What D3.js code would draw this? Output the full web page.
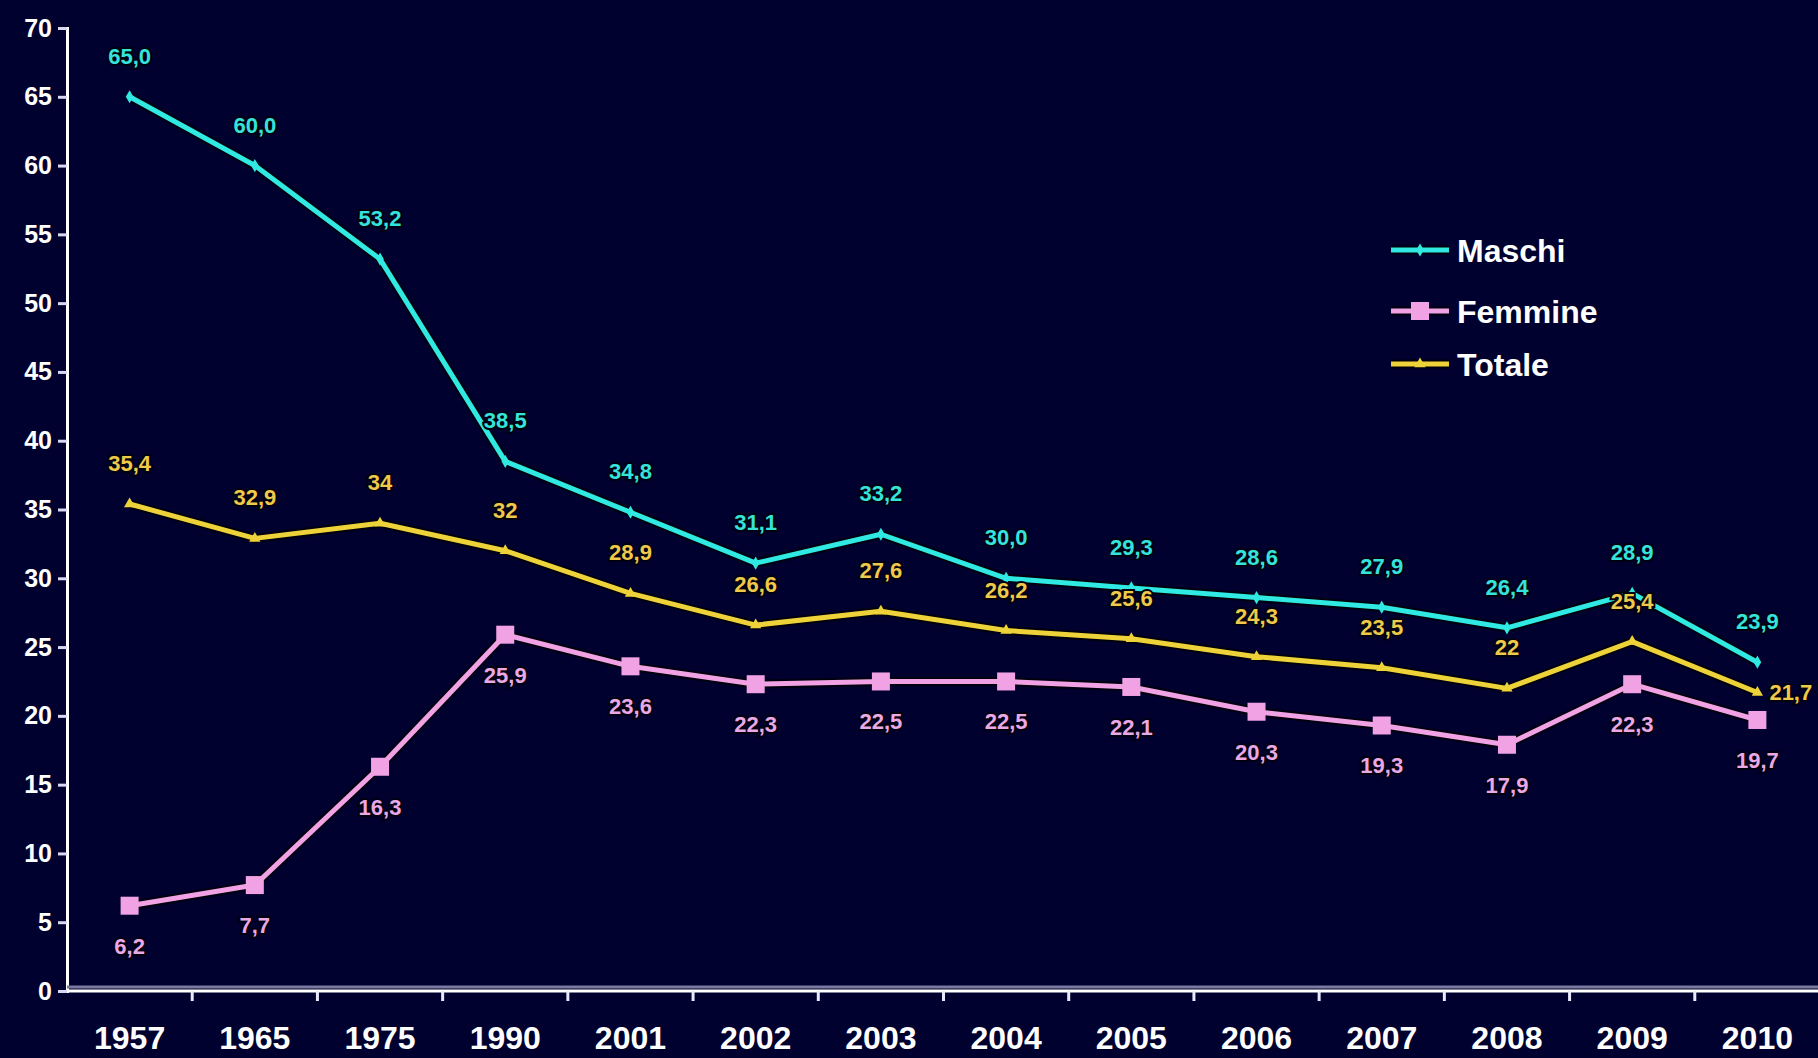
<!DOCTYPE html>
<html>
<head>
<meta charset="utf-8">
<script src="https://cdn.jsdelivr.net/npm/d3@7"></script>
<style>
  html, body { margin: 0; padding: 0; background: #01012f; }
  svg { display: block; }
</style>
</head>
<body>
<svg id="chart" width="1818" height="1058"></svg>
<script>
const years = ["1957","1965","1975","1990","2001","2002","2003","2004","2005","2006","2007","2008","2009","2010"];
const maschi  = [65.0, 60.0, 53.2, 38.5, 34.8, 31.1, 33.2, 30.0, 29.3, 28.6, 27.9, 26.4, 28.9, 23.9];
const femmine = [6.2, 7.7, 16.3, 25.9, 23.6, 22.3, 22.5, 22.5, 22.1, 20.3, 19.3, 17.9, 22.3, 19.7];
const totale  = [35.4, 32.9, 34, 32, 28.9, 26.6, 27.6, 26.2, 25.6, 24.3, 23.5, 22, 25.4, 21.7];
const yTicks  = [0, 5, 10, 15, 20, 25, 30, 35, 40, 45, 50, 55, 60, 65, 70];
const seriesNames = ["Maschi", "Femmine", "Totale"];

const W = 1818, H = 1058;
const FONT = "Liberation Sans, Arial, sans-serif";
const svg = d3.select("#chart");
svg.append("rect").attr("width", W).attr("height", H).attr("fill", "#01012f");

const x = d3.scaleBand().domain(years).range([67, 1820]).padding(0);
const y = d3.scaleLinear().domain([0, 70]).range([991, 28]);
const cx = d => x(d) + x.bandwidth() / 2;

const fmt1 = d3.format(".1f");
const series = [
  { name: "Maschi", values: maschi, color: "#2fe9e2", label: "#35e3dc", fmt: v => fmt1(v).replace(".", ","), pos: "above", marker: "diamond" },
  { name: "Femmine", values: femmine, color: "#f0a2e4", label: "#eaa8e6", fmt: v => fmt1(v).replace(".", ","), pos: "below", marker: "square" },
  { name: "Totale", values: totale, color: "#eed23a", label: "#efc94a", fmt: v => String(v).replace(".", ","), pos: "above", marker: "tri" }
];

// Y axis
const yAxis = d3.axisLeft(y).tickValues(yTicks).tickSize(9).tickPadding(6).tickFormat(d3.format("d"));
const gy = svg.append("g").attr("transform", "translate(67,0)").call(yAxis);
gy.select(".domain").attr("stroke", "#ffffff").attr("stroke-width", 3);
gy.selectAll(".tick line").attr("stroke", "#d8d8f0").attr("stroke-width", 3);
gy.selectAll(".tick text").attr("fill", "#ffffff").attr("font-family", FONT)
  .attr("font-weight", "bold").attr("font-size", 25);

// X axis: gray line above the white axis line
svg.append("line").attr("x1", 67).attr("x2", W).attr("y1", 987).attr("y2", 987)
  .attr("stroke", "#7a7aa0").attr("stroke-width", 3);
const xAxis = d3.axisBottom(x).tickSize(0).tickPadding(0);
const gx = svg.append("g").attr("transform", "translate(0,991)").call(xAxis);
gx.select(".domain").attr("stroke", "#ffffff").attr("stroke-width", 3).attr("d", `M67,0H${W}`);
gx.selectAll(".tick text").attr("fill", "#ffffff").attr("font-family", FONT)
  .attr("font-weight", "bold").attr("font-size", 32).attr("dy", null).attr("y", 58);
// tick marks between categories
svg.append("g").selectAll("line").data(years.slice(1)).join("line")
  .attr("x1", d => x(d)).attr("x2", d => x(d))
  .attr("y1", 991).attr("y2", 1001)
  .attr("stroke", "#e8e8ff").attr("stroke-width", 3);

// Lines
const line = d3.line().x((d, i) => cx(years[i])).y(d => y(d));
series.forEach(s => {
  svg.append("path").datum(s.values).attr("d", line).attr("fill", "none")
    .attr("stroke", "#000000").attr("stroke-opacity", 0.7).attr("stroke-width", 9).attr("stroke-linejoin", "round");
});
series.forEach(s => {
  svg.append("path").datum(s.values).attr("d", line).attr("fill", "none")
    .attr("stroke", s.color).attr("stroke-width", 5).attr("stroke-linejoin", "round");
});

// Markers
function drawMarker(g, type, px, py, color) {
  if (type === "square") {
    g.append("rect").attr("x", px - 9).attr("y", py - 9).attr("width", 18).attr("height", 18).attr("fill", color);
  } else if (type === "diamond") {
    g.append("path").attr("d", d3.symbol(d3.symbolDiamond, 50)()).attr("transform", `translate(${px},${py})`).attr("fill", color);
  } else {
    g.append("path").attr("d", d3.symbol(d3.symbolTriangle, 55)()).attr("transform", `translate(${px},${py})`).attr("fill", color);
  }
}
const gm = svg.append("g");
series.forEach(s => s.values.forEach((v, i) => drawMarker(gm, s.marker, cx(years[i]), y(v), s.color)));

// Data labels
const gl = svg.append("g").attr("font-family", FONT).attr("font-weight", "bold").attr("font-size", 22);
series.forEach(s => {
  s.values.forEach((v, i) => {
    let tx = cx(years[i]), ty, anchor = "middle";
    if (s.name === "Totale" && i === years.length - 1) {
      tx = tx + 12; ty = y(v) + 8; anchor = "start";
    } else if (s.pos === "above") {
      ty = y(v) - 33;
    } else {
      ty = y(v) + 48;
    }
    gl.append("text").attr("x", tx).attr("y", ty).attr("text-anchor", anchor)
      .attr("fill", s.label).attr("stroke", "#000010").attr("stroke-width", 4).attr("paint-order", "stroke")
      .text(s.fmt(v));
  });
});

// Legend
const legend = svg.append("g").attr("transform", "translate(1391,0)");
const legendY = [250, 311, 364];
series.forEach((s, i) => {
  const ly = legendY[i];
  legend.append("line").attr("x1", 0).attr("x2", 58).attr("y1", ly).attr("y2", ly)
    .attr("stroke", "#000").attr("stroke-opacity", 0.7).attr("stroke-width", 9);
  legend.append("line").attr("x1", 0).attr("x2", 58).attr("y1", ly).attr("y2", ly)
    .attr("stroke", s.color).attr("stroke-width", 5);
  drawMarker(legend, s.marker, 29, ly, s.color);
  legend.append("text").attr("x", 66).attr("y", ly + 12)
    .attr("fill", "#ffffff").attr("font-family", FONT)
    .attr("font-weight", "bold").attr("font-size", 32).text(seriesNames[i]);
});
</script>
</body>
</html>
